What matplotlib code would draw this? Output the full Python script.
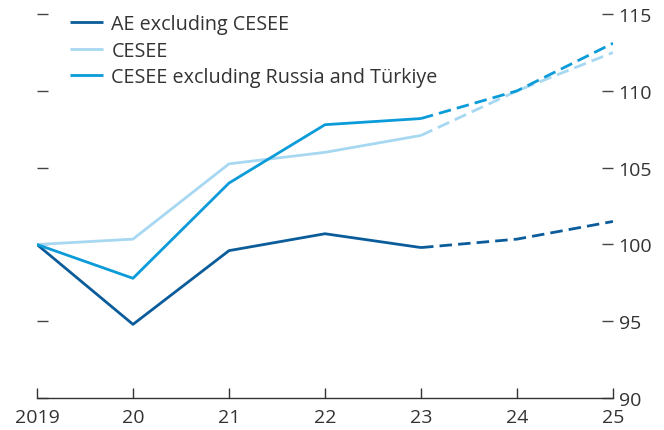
import matplotlib
matplotlib.use("Agg")
import matplotlib.pyplot as plt

plt.rcParams['font.family'] = ['Open Sans', 'DejaVu Sans']

# Data
years = [2019, 2020, 2021, 2022, 2023, 2024, 2025]
xlabels = ['2019', '20', '21', '22', '23', '24', '25']
ae_excl_cesee = [100, 94.8, 99.6, 100.7, 99.8, 100.35, 101.5]
cesee = [100, 100.35, 105.25, 106.0, 107.1, 110.0, 112.5]
cesee_excl_ru_tr = [100, 97.8, 104.0, 107.8, 108.2, 110.0, 113.1]
series_names = ['AE excluding CESEE', 'CESEE', 'CESEE excluding Russia and Türkiye']
colors = ['#0b5c9a', '#a7d8f2', '#0a9bd8']
last_actual = 4  # index of 2023, projections dashed after

fig = plt.figure(figsize=(6.64, 4.31), dpi=100)
ax = fig.add_axes([0.0557, 0.074, 0.8675, 0.891])

for vals, name, c in zip([ae_excl_cesee, cesee, cesee_excl_ru_tr], series_names, colors):
    ax.plot(years[:last_actual + 1], vals[:last_actual + 1], color=c, lw=2.0,
            label=name, solid_capstyle='butt')
    ax.plot(years[last_actual:], vals[last_actual:], color=c, lw=2.0,
            dashes=(4.5, 2.2))

ax.set_xlim(2019, 2025)
ax.set_ylim(90, 115)
ax.set_xticks(years)
ax.set_xticklabels(xlabels)
ax.set_yticks([90, 95, 100, 105, 110, 115])

for s in ['left', 'right', 'top']:
    ax.spines[s].set_visible(False)
ax.spines['bottom'].set_color('#333333')
ax.spines['bottom'].set_linewidth(1.0)

ax.tick_params(axis='x', direction='in', length=7, width=1.0, color='#333333',
               labelsize=14, labelcolor='#333333', pad=7)
ax.tick_params(axis='y', direction='in', length=8, width=1.0, color='#444444',
               left=True, right=True, labelleft=False, labelright=True,
               labelsize=14, labelcolor='#333333', pad=4)

leg = ax.legend(loc='upper left', bbox_to_anchor=(0.04, 1.025), frameon=False,
                fontsize=14.2, handlelength=1.7, handletextpad=0.4,
                labelspacing=0.33, borderpad=0.0)
for t in leg.get_texts():
    t.set_color('#333333')

fig.savefig('out.png', dpi=100)
